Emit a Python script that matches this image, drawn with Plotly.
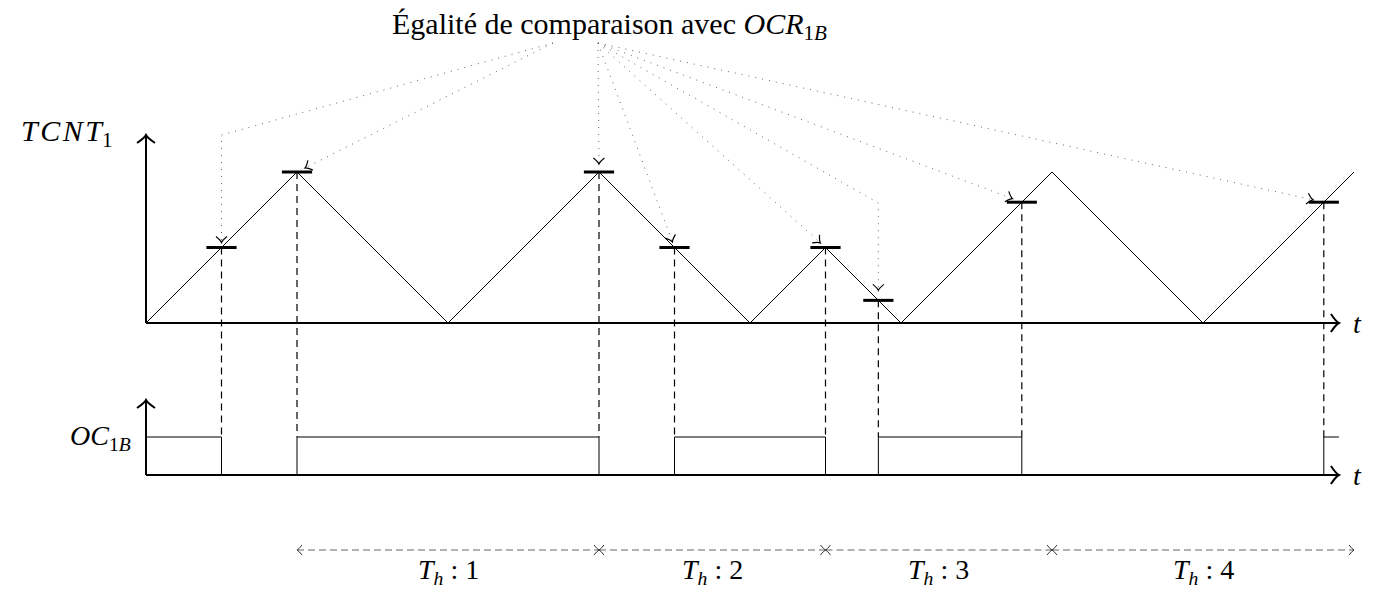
import math
import plotly.graph_objects as go

# ---------------- data ----------------
wave_t = [0, 2, 4, 6, 8, 9, 10, 12, 14, 16]          # counter vertices (time)
wave_v = [0, 2, 0, 2, 0, 1, 0, 2, 0, 2]              # counter values
cmp_t = [1, 2, 6, 7, 9, 9.7, 11.6, 15.6]             # compare-match times
cmp_v = [1, 2, 2, 1, 1, 0.3, 1.6, 1.6]               # OCR1B values at match
period_bounds = [2, 6, 9, 12, 16]                    # Th period limits
period_labels = ["1", "2", "3", "4"]
title_text = "Égalité de comparaison avec <i>OCR</i><sub>1<i>B</i></sub>"
y_label = "<i>T\u200aC\u200aN\u200aT</i><sub>1</sub>"
out_label = "<i>OC</i><sub>1<i>B</i></sub>"
t_label = "<i>t</i>"

# ---------------- geometry (pixel layout) ----------------
W, H = 1375, 589
OFF = 8                              # page body margin
X0, Y0, U = 146, 323, 75.5          # origin of upper plot and unit size in px
LOW_BASE_PX, LOW_HIGH_PX = 475, 437  # lower signal baseline / high level
T_END = 15.8                          # end of time axes
ARROW_Y_PX, ARROW_LBL_PX = 550, 571
FONT = "Liberation Serif"
FS = 28


def dx(px):
    return (px - X0) / U


def dy(py):
    return (Y0 - py) / U


def px(x):
    return X0 + U * x


def py(y):
    return Y0 - U * y


Y_LOW = dy(LOW_BASE_PX)
Y_HIGH = dy(LOW_HIGH_PX)

fig = go.Figure()
shapes = []
annotations = []


def line(xs, ys, width=1, color="black", dash="solid"):
    fig.add_trace(go.Scatter(x=xs, y=ys, mode="lines",
                             line=dict(color=color, width=width, dash=dash),
                             hoverinfo="skip", showlegend=False))


def hook(tip, d, back=5.0, side=4.0, width=1, color="black"):
    """tikz-like barbed arrow tip; tip in px, d = direction (px) of travel."""
    L = math.hypot(*d)
    ux, uy = d[0] / L, d[1] / L
    nx, ny = -uy, ux
    tx, ty = tip
    e1 = (tx - back * ux + side * nx, ty - back * uy + side * ny)
    e2 = (tx - back * ux - side * nx, ty - back * uy - side * ny)
    c1 = (tx - 0.35 * back * ux + 0.15 * side * nx, ty - 0.35 * back * uy + 0.15 * side * ny)
    c2 = (tx - 0.35 * back * ux - 0.15 * side * nx, ty - 0.35 * back * uy - 0.15 * side * ny)

    def P(p):
        return f"{dx(p[0])},{dy(p[1])}"
    path = f"M {P(e1)} Q {P(c1)} {P(tip)} Q {P(c2)} {P(e2)}"
    shapes.append(dict(type="path", path=path, xref="x", yref="y",
                       line=dict(color=color, width=width)))


# ---------------- axes ----------------
TOP_PX = 135
line([0, 0], [0, dy(TOP_PX)], width=2)
line([0, T_END], [0, 0], width=2)
hook((px(0), TOP_PX), (0, -1), back=8, side=9, width=2)
hook((px(T_END), Y0), (1, 0), back=8, side=9, width=2)

LOW_TOP_PX = 400
line([0, 0], [Y_LOW, dy(LOW_TOP_PX)], width=2)
line([0, T_END], [Y_LOW, Y_LOW], width=2)
hook((px(0), LOW_TOP_PX), (0, -1), back=8, side=9, width=2)
hook((px(T_END), LOW_BASE_PX), (1, 0), back=8, side=9, width=2)

# ---------------- counter wave ----------------
line(wave_t, wave_v, width=1)

# ---------------- output compare signal ----------------
sx, sy = [0], [Y_HIGH]
level = Y_HIGH
for t in cmp_t:
    other = Y_LOW if level == Y_HIGH else Y_HIGH
    sx += [t, t]
    sy += [level, other]
    level = other
sx.append(T_END)
sy.append(level)
line(sx, sy, width=1)

# ---------------- dashed drop lines and marks ----------------
for t, v in zip(cmp_t, cmp_v):
    line([t, t], [v, Y_HIGH], width=1.2, dash="7px,5px")
for t, v in zip(cmp_t, cmp_v):
    line([t - 0.2, t + 0.2], [v, v], width=3)

# ---------------- dotted leader lines ----------------
ORIG_L = (553, 43)
ORIG_R = (598, 43)
routes = [  # (origin, corner px or None, shorten px)
    (ORIG_L, (px(1), 135), 5),
    (ORIG_L, None, 9),
    (ORIG_R, None, 8),
    (ORIG_R, None, 6),
    (ORIG_R, None, 7),
    (ORIG_R, (px(9.7), 203), 10),
    (ORIG_R, None, 10),
    (ORIG_R, None, 11),
]
for (t, v), (orig, corner, sh) in zip(zip(cmp_t, cmp_v), routes):
    target = (px(t), py(v))
    start = corner if corner else orig
    ddx, ddy = target[0] - start[0], target[1] - start[1]
    L = math.hypot(ddx, ddy)
    tip = (target[0] - sh * ddx / L, target[1] - sh * ddy / L)
    pts = [orig] + ([corner] if corner else []) + [tip]
    line([dx(p[0]) for p in pts], [dy(p[1]) for p in pts], width=1,
         color="#666666", dash="1px,6px")
    hook(tip, (ddx, ddy), back=6, side=5.5, width=1.2)

# ---------------- Th period arrows ----------------
ya = dy(ARROW_Y_PX)
for i, lbl in enumerate(period_labels):
    a, b = period_bounds[i], period_bounds[i + 1]
    line([a, b], [ya, ya], width=1, color="#666666", dash="7px,4px")
    hook((px(a), ARROW_Y_PX), (-1, 0), back=5, side=5, width=1, color="#333333")
    hook((px(b), ARROW_Y_PX), (1, 0), back=5, side=5, width=1, color="#333333")
    annotations.append(dict(x=(a + b) / 2, y=dy(ARROW_LBL_PX), xref="x", yref="y",
                            text=f"<i>T</i><sub><i>h</i></sub> : {lbl}",
                            showarrow=False, font=dict(family=FONT, size=FS, color="black")))

# ---------------- texts ----------------
annotations += [
    dict(x=dx(609), y=dy(26), text=title_text,
         font=dict(family=FONT, size=30, color="black")),
    dict(x=dx(66), y=dy(133), text=y_label,
         font=dict(family=FONT, size=30, color="black")),
    dict(x=dx(133), y=dy(437), text=out_label, xanchor="right"),
    dict(x=dx(1357), y=dy(323), text=t_label),
    dict(x=dx(1357), y=dy(475), text=t_label),
]
for a in annotations:
    a.setdefault("xref", "x")
    a.setdefault("yref", "y")
    a.setdefault("showarrow", False)
    a.setdefault("font", dict(family=FONT, size=FS, color="black"))

fig.update_layout(
    width=W, height=H,
    margin=dict(l=0, r=0, t=0, b=0),
    paper_bgcolor="white", plot_bgcolor="white",
    xaxis=dict(range=[dx(OFF), dx(OFF + W)], visible=False, fixedrange=True),
    yaxis=dict(range=[dy(OFF + H), dy(OFF)], visible=False, fixedrange=True),
    shapes=shapes, annotations=annotations,
    showlegend=False,
)
fig.write_html("out.html")
